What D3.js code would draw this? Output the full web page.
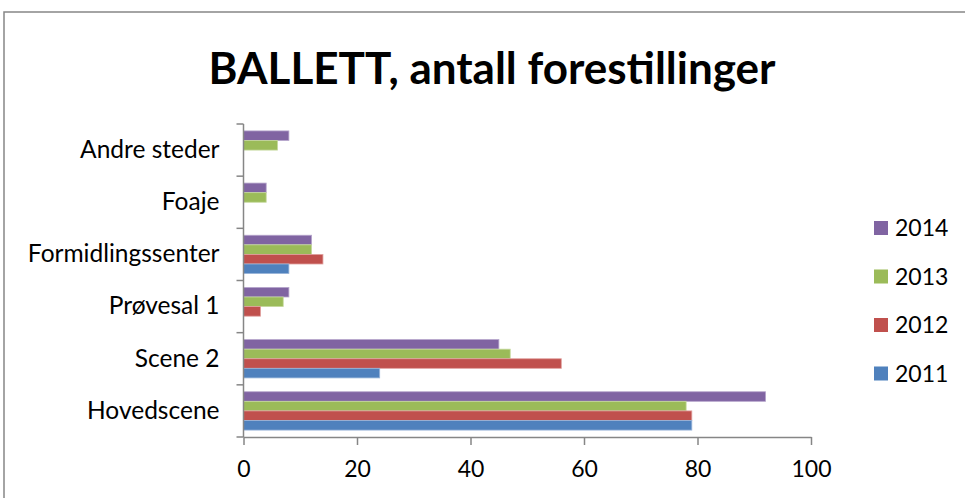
<!DOCTYPE html>
<html>
<head>
<meta charset="utf-8">
<script src="https://cdn.jsdelivr.net/npm/d3@7"></script>
<style>
body { margin: 0; background: #fff; }
svg text { font-family: Lato, "Liberation Sans", sans-serif; fill: #000; }
.axis path, .axis line { stroke: #868686; stroke-width: 1.5; }
</style>
</head>
<body>
<script>
// data
const categories = ['Andre steder', 'Foaje', 'Formidlingssenter', 'Prøvesal 1', 'Scene 2', 'Hovedscene'];
const years = ['2014', '2013', '2012', '2011'];
const values2011 = [0, 0, 8, 0, 24, 79];
const values2012 = [0, 0, 14, 3, 56, 79];
const values2013 = [6, 4, 12, 7, 47, 78];
const values2014 = [8, 4, 12, 8, 45, 92];
const xTicks = [0, 20, 40, 60, 80, 100];

const seriesValues = { '2011': values2011, '2012': values2012, '2013': values2013, '2014': values2014 };
const colors = { '2014': '#8064A2', '2013': '#9BBB59', '2012': '#C0504D', '2011': '#4F81BD' };
const borders = { '2014': '#b6a6cc', '2013': '#c6d99e', '2012': '#e0a19f', '2011': '#9ab6da' };

const W = 965, H = 498;
const svg = d3.select(document.body)
    .append('svg')
    .attr('width', W)
    .attr('height', H);

// chart frame (only top and left edges visible)
svg.append('rect')
    .attr('x', 4).attr('y', 12)
    .attr('width', 1200).attr('height', 800)
    .attr('fill', '#fff')
    .attr('stroke', '#868686')
    .attr('stroke-width', 1.5);

svg.append('text')
    .attr('x', 492).attr('y', 84)
    .attr('text-anchor', 'middle')
    .style('font-size', '44px')
    .style('font-weight', 'bold')
    .text('BALLETT, antall forestillinger');

const x = d3.scaleLinear().domain([0, 100]).range([243.5, 811]);
const y = d3.scaleBand()
    .domain(categories)
    .range([124, 437])
    .paddingInner(0.265)
    .paddingOuter(0.1325);
const yInner = d3.scaleBand()
    .domain(years)
    .range([0, y.bandwidth()]);

// bars
const groups = svg.append('g')
    .selectAll('g')
    .data(categories)
    .enter()
    .append('g')
    .attr('transform', d => `translate(0,${y(d)})`);

groups.selectAll('rect')
    .data((c, i) => years.map(yr => ({ yr: yr, v: seriesValues[yr][i] })).filter(d => d.v > 0))
    .enter()
    .append('rect')
    .attr('x', x(0))
    .attr('y', d => yInner(d.yr))
    .attr('width', d => x(d.v) - x(0))
    .attr('height', yInner.bandwidth())
    .attr('fill', d => colors[d.yr])
    .attr('stroke', d => borders[d.yr])
    .attr('stroke-width', 0.8);

// y axis: category labels
const yAxis = svg.append('g')
    .attr('class', 'axis')
    .attr('transform', `translate(${x(0)},0)`)
    .call(d3.axisLeft(y).tickSize(0).tickPadding(24));
yAxis.select('.domain').remove();
yAxis.selectAll('text').style('font-size', '24.5px');

// y axis line and boundary ticks
const bounds = d3.range(categories.length + 1).map(i => y.range()[0] + i * y.step());
svg.append('line')
    .attr('x1', x(0)).attr('x2', x(0))
    .attr('y1', y.range()[0]).attr('y2', y.range()[1])
    .attr('stroke', '#868686').attr('stroke-width', 1.5);
svg.append('g')
    .selectAll('line')
    .data(bounds)
    .enter()
    .append('line')
    .attr('x1', x(0) - 7).attr('x2', x(0))
    .attr('y1', d => d).attr('y2', d => d)
    .attr('stroke', '#868686').attr('stroke-width', 1.5);

// x axis
const xAxis = svg.append('g')
    .attr('class', 'axis')
    .attr('transform', `translate(0,${y.range()[1]})`)
    .call(d3.axisBottom(x).tickValues(xTicks).tickSize(8).tickSizeOuter(0).tickPadding(16));
xAxis.selectAll('text').style('font-size', '23px');

// legend
const legend = svg.append('g')
    .selectAll('g')
    .data(years)
    .enter()
    .append('g')
    .attr('transform', (d, i) => `translate(874,${228 + i * 48.5})`);
legend.append('rect')
    .attr('x', 0).attr('y', -7)
    .attr('width', 14).attr('height', 14)
    .attr('fill', d => colors[d]);
legend.append('text')
    .attr('x', 21).attr('y', 0)
    .attr('dy', '0.35em')
    .style('font-size', '23px')
    .text(d => d);
</script>
</body>
</html>
